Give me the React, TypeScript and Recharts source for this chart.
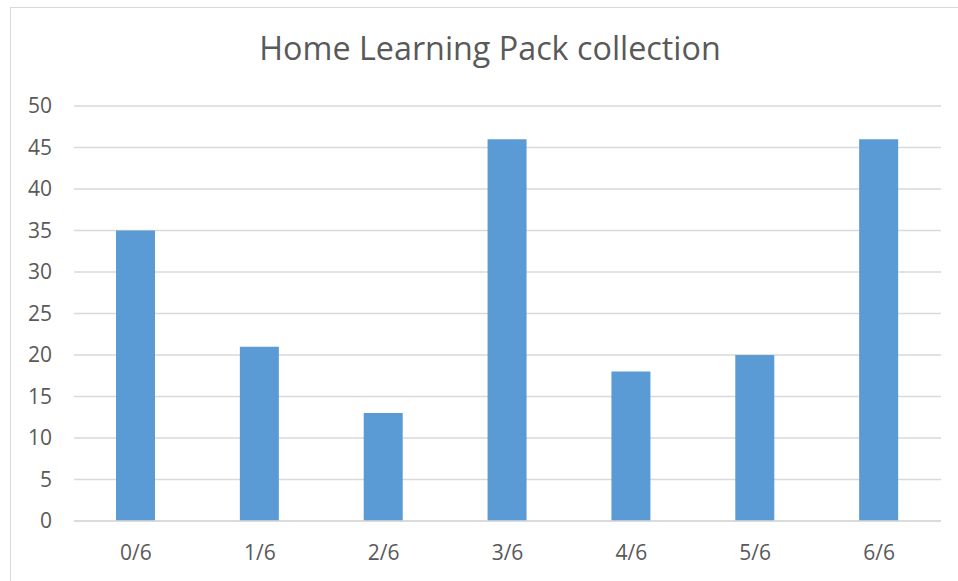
import React from 'react'
import { BarChart, Bar, XAxis, YAxis, CartesianGrid } from 'recharts'

const CATEGORIES = ['0/6', '1/6', '2/6', '3/6', '4/6', '5/6', '6/6']
const COUNTS = [35, 21, 13, 46, 18, 20, 46]
const Y_TICKS = [0, 5, 10, 15, 20, 25, 30, 35, 40, 45, 50]

const BAR_COLOR = '#5b9bd5'
const GRID_COLOR = '#d9d9d9'
const TEXT_COLOR = '#595959'
const FONT = '"Open Sans", sans-serif'

const data = CATEGORIES.map((name, i) => ({ name, value: COUNTS[i] }))

export default function App() {
  return (
    <div style={{ position: 'absolute', left: 0, top: 0, width: 958, height: 581, overflow: 'hidden', background: '#fff' }}>
      <div
        style={{
          position: 'absolute',
          left: 10,
          top: 7,
          width: 1000,
          height: 700,
          border: `1px solid ${GRID_COLOR}`,
        }}
      />
      <div
        style={{
          position: 'absolute',
          left: 0,
          top: 27,
          width: 980,
          textAlign: 'center',
          fontFamily: FONT,
          fontSize: 32.3,
          color: TEXT_COLOR,
          lineHeight: '40px',
        }}
      >
        Home Learning Pack collection
      </div>
      <div style={{ position: 'absolute', left: 0, top: 0 }}>
        <BarChart
          width={958}
          height={581}
          data={data}
          margin={{ top: 106, right: 17, bottom: 0, left: 0 }}
        >
          <CartesianGrid vertical={false} stroke={GRID_COLOR} strokeWidth={1.5} />
          <XAxis
            dataKey="name"
            height={60}
            tickLine={false}
            tickSize={0}
            tickMargin={24}
            axisLine={{ stroke: GRID_COLOR, strokeWidth: 1.5 }}
            tick={{ fill: TEXT_COLOR, fontSize: 21, fontFamily: FONT }}
          />
          <YAxis
            width={74}
            domain={[0, 50]}
            ticks={Y_TICKS}
            interval={0}
            tickLine={false}
            tickSize={0}
            axisLine={false}
            tickMargin={22}
            tick={{ fill: TEXT_COLOR, fontSize: 21, fontFamily: FONT }}
          />
          <Bar dataKey="value" fill={BAR_COLOR} barSize={39} isAnimationActive={false} />
        </BarChart>
      </div>
    </div>
  )
}
